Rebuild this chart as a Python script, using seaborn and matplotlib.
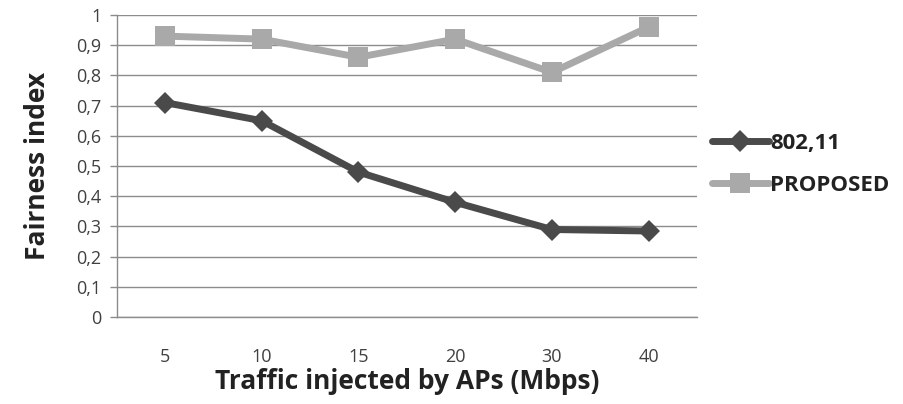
import numpy as np
import pandas as pd
import matplotlib
matplotlib.use("Agg")
import matplotlib.pyplot as plt
import seaborn as sns
from matplotlib.ticker import FuncFormatter, FixedLocator

categories = ["5", "10", "15", "20", "30", "40"]
s80211 = [0.71, 0.65, 0.48, 0.38, 0.29, 0.285]
proposed = [0.93, 0.92, 0.86, 0.92, 0.81, 0.96]
series_names = ["802,11", "PROPOSED"]

sns.set_theme(style="white")
plt.rcParams['font.family'] = ['Open Sans', 'DejaVu Sans']

pos = np.arange(len(categories))
df = pd.DataFrame({
    "x": np.concatenate([pos, pos]),
    "y": s80211 + proposed,
    "series": [series_names[0]] * len(pos) + [series_names[1]] * len(pos),
})

fig = plt.figure(figsize=(9.04, 4.04), dpi=100)
ax = fig.add_axes([0.129, 0.215, 0.642, 0.748])

palette = {series_names[0]: "#4a4a4a", series_names[1]: "#a9a9a9"}
markers = {series_names[0]: "D", series_names[1]: "s"}
sns.lineplot(data=df, x="x", y="y", hue="series", style="series",
             palette=palette, markers=markers, dashes=False,
             linewidth=5, markersize=12, markeredgewidth=0, ax=ax)
for line in ax.get_lines():
    if line.get_marker() == "D":
        line.set_markersize(11)
    elif line.get_marker() == "s":
        line.set_markersize(15)

ax.set_xlim(-0.5, len(categories) - 0.5)
ax.set_ylim(0, 1)
ax.set_yticks(np.arange(0, 1.01, 0.1))
ax.yaxis.set_major_formatter(FuncFormatter(lambda v, p: "0" if abs(v) < 1e-9 else ("1" if abs(v-1) < 1e-9 else f"{v:.1f}".replace(".", ","))))
ax.set_xticks(pos)
ax.set_xticklabels(categories)
ax.xaxis.set_minor_locator(FixedLocator(np.arange(-0.5, len(categories), 1.0)))
ax.tick_params(axis="x", which="major", length=0, pad=22, labelsize=13, labelcolor="#404040")
ax.tick_params(axis="x", which="minor", length=5, width=1, color="#8c8c8c", direction="out")
ax.tick_params(axis="y", which="major", length=5, width=1, color="#8c8c8c", direction="out",
               labelsize=13, labelcolor="#404040", pad=6, left=True)
ax.grid(axis="y", color="#8c8c8c", linewidth=1)
ax.set_axisbelow(True)
for s in ["top", "right"]:
    ax.spines[s].set_visible(False)
for s in ["left", "bottom"]:
    ax.spines[s].set_color("#8c8c8c")
    ax.spines[s].set_linewidth(1)

ax.set_xlabel("Traffic injected by APs (Mbps)", fontsize=19, fontweight="bold", color="#222222", labelpad=2)
ax.set_ylabel("Fairness index", fontsize=19, fontweight="bold", color="#222222", labelpad=18)

leg = ax.legend(loc="center left", bbox_to_anchor=(0.765, 0.593), bbox_transform=fig.transFigure,
                frameon=False, handlelength=2.6, handletextpad=0.05, labelspacing=0.95,
                prop={"size": 16, "weight": "bold"})
for t in leg.get_texts():
    t.set_color("#222222")

fig.savefig("out.png", dpi=100)
